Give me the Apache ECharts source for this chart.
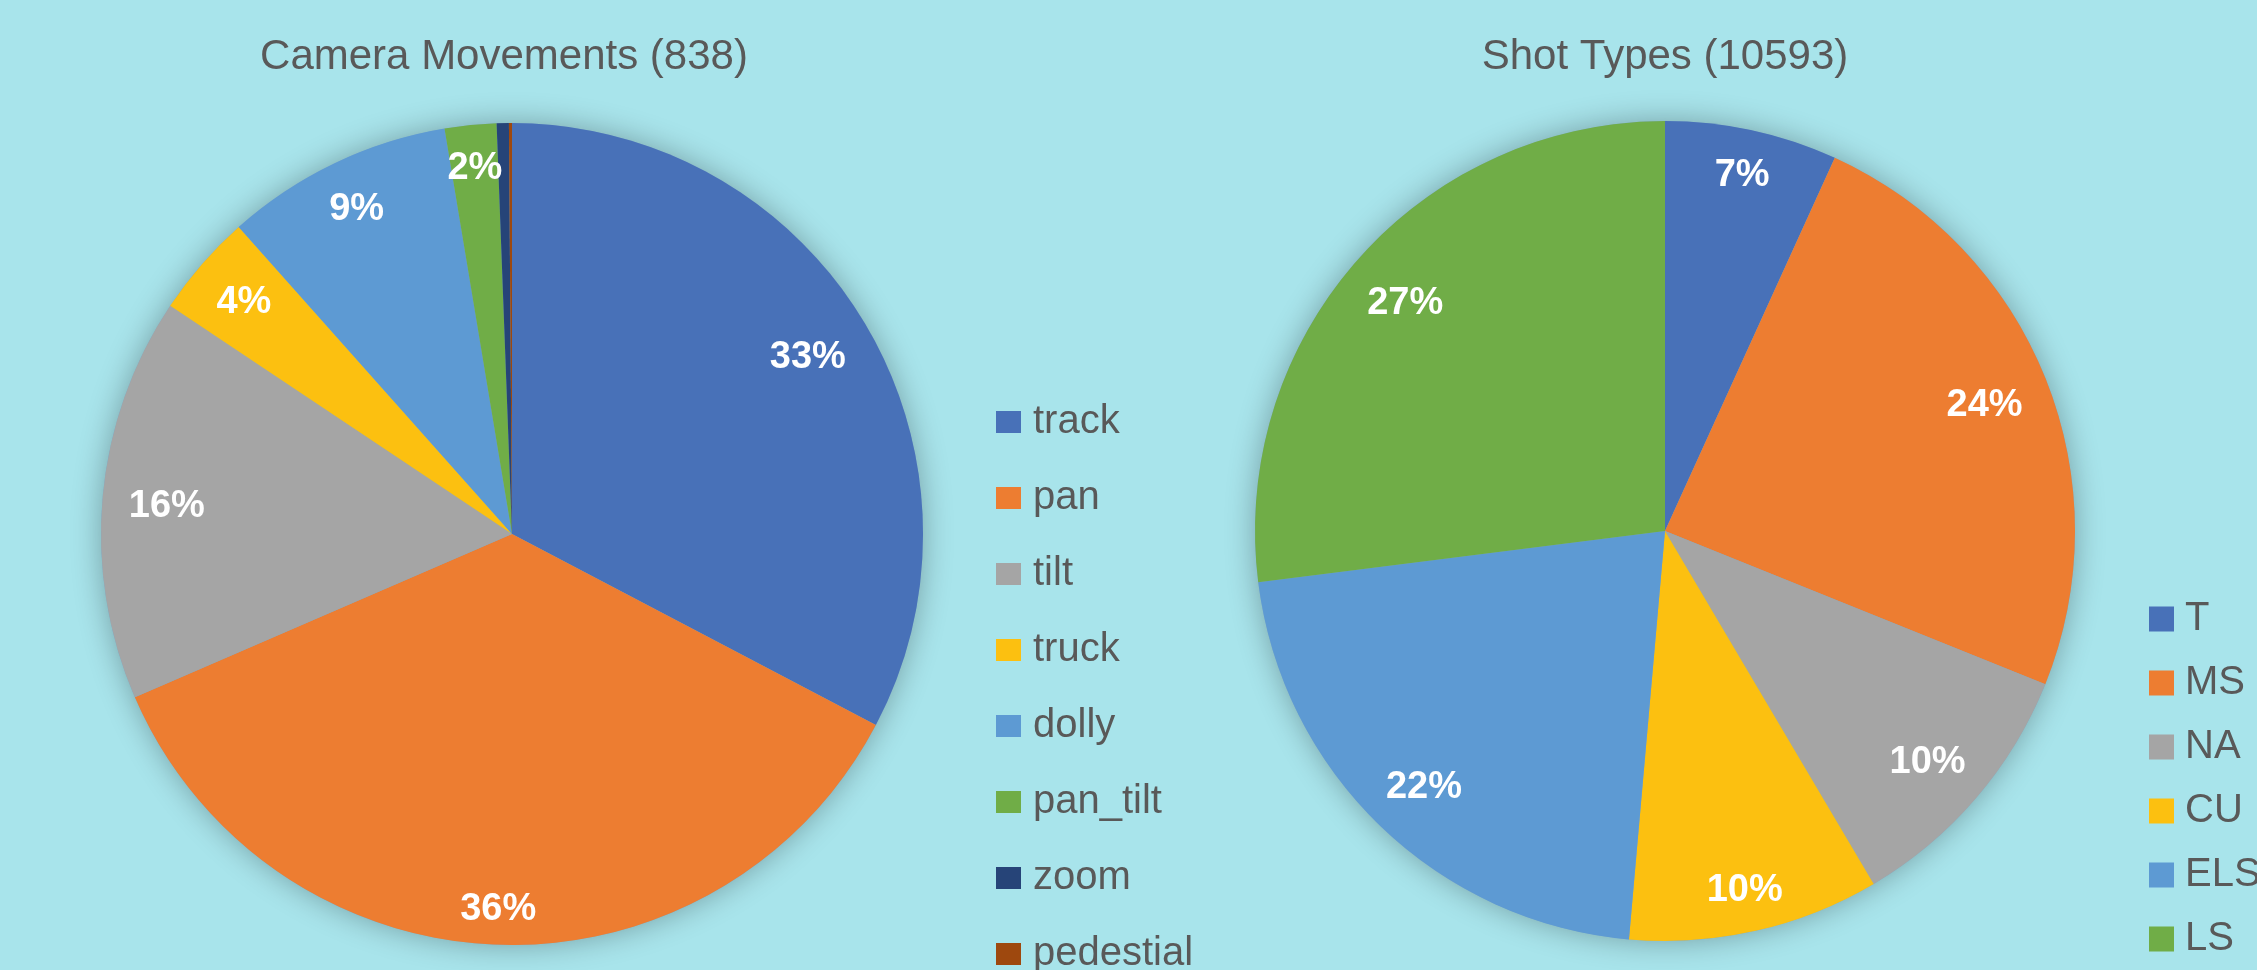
<!DOCTYPE html>
<html>
<head>
<meta charset="utf-8">
<script src="https://cdn.jsdelivr.net/npm/echarts@6/dist/echarts.min.js"></script>
<style>
  html, body { margin: 0; padding: 0; background: #a8e4eb; }
  #main { width: 2257px; height: 970px; }
</style>
</head>
<body>
<div id="main"></div>
<script>
// camera movements (838)
const moveNames = ['track', 'pan', 'tilt', 'truck', 'dolly', 'pan_tilt', 'zoom', 'pedestial'];
const moveCounts = [274, 300, 133, 34, 75, 17, 4, 1];
const moveColors = ['#4871b8', '#ed7d31', '#a5a5a5', '#fcc010', '#5d9ad3', '#70ad47', '#264478', '#9e480e'];

// shot types (10593)
const shotNames = ['T', 'MS', 'NA', 'CU', 'ELS', 'LS'];
const shotCounts = [720, 2574, 1102, 1049, 2288, 2860];
const shotColors = ['#4871b8', '#ed7d31', '#a5a5a5', '#fcc010', '#5d9ad3', '#70ad47'];

const bg = '#a8e4eb';
const textColor = '#595959';
const font = 'Liberation Sans';

const chart = echarts.init(document.getElementById('main'), null, { renderer: 'canvas' });

function total(arr) {
  return arr.reduce((a, b) => a + b, 0);
}

// excel "inside end" style: push label out along the mid angle until
// its outer corner sits a fixed gap inside the rim
function labelPlacer(counts, center, r) {
  const sum = total(counts);
  return function (p) {
    const i = p.dataIndex;
    let before = 0;
    for (let k = 0; k < i; k++) before += counts[k];
    const mid = (before + counts[i] / 2) / sum * Math.PI * 2;
    const ux = Math.sin(mid), uy = -Math.cos(mid);
    const hw = p.labelRect.width / 2, hh = 15;
    const dot = ux * Math.sign(ux) * hw + uy * Math.sign(uy) * hh;
    const R = r - 25;
    const d = -dot + Math.sqrt(dot * dot - (hw * hw + hh * hh) + R * R);
    return { x: center[0] + ux * d, y: center[1] + uy * d * 1.01 + 4 };
  };
}

function pieSeries(names, counts, colors, center, r) {
  const data = names.map((n, i) => ({ name: n, value: counts[i], itemStyle: { color: colors[i] } }));
  return [
    // backdrop just for the soft shadow round the pie
    {
      type: 'pie',
      center: center,
      radius: r,
      silent: true,
      z: 1,
      label: { show: false },
      labelLine: { show: false },
      itemStyle: { color: '#7fa9c9', shadowBlur: 30, shadowColor: 'rgba(0,0,0,0.3)' },
      data: [{ name: '', value: total(counts) }]
    },
    {
      type: 'pie',
      center: center,
      radius: r,
      startAngle: 90,
      clockwise: true,
      z: 2,
      itemStyle: { borderWidth: 0 },
      labelLine: { show: false },
      label: {
        show: true,
        position: 'inside',
        color: '#ffffff',
        fontFamily: font,
        fontWeight: 'bold',
        fontSize: 38,
        formatter: p => (p.percent < 1 ? '' : Math.round(p.percent) + '%')
      },
      labelLayout: labelPlacer(counts, center, r),
      data: data
    }
  ];
}

const option = {
  backgroundColor: bg,
  animation: false,
  title: [
    {
      text: 'Camera Movements (' + total(moveCounts) + ')',
      left: 504,
      top: 36,
      padding: 0,
      textAlign: 'center',
      textStyle: { color: textColor, fontFamily: font, fontWeight: 'normal', fontSize: 42 }
    },
    {
      text: 'Shot Types (' + total(shotCounts) + ')',
      left: 1665,
      top: 36,
      padding: 0,
      textAlign: 'center',
      textStyle: { color: textColor, fontFamily: font, fontWeight: 'normal', fontSize: 42 }
    }
  ],
  legend: [
    {
      data: moveNames,
      orient: 'vertical',
      left: 996,
      top: 402,
      height: 700,
      padding: 0,
      icon: 'rect',
      itemWidth: 25,
      itemHeight: 22,
      itemGap: 36,
      selectedMode: false,
      textStyle: { color: textColor, fontFamily: font, fontSize: 40, padding: [0, 0, 0, 7] }
    },
    {
      data: shotNames,
      orient: 'vertical',
      left: 2149,
      top: 599,
      height: 500,
      padding: 0,
      icon: 'rect',
      itemWidth: 25,
      itemHeight: 25,
      itemGap: 24,
      selectedMode: false,
      textStyle: { color: textColor, fontFamily: font, fontSize: 40, padding: [0, 0, 0, 6] }
    }
  ],
  series: [
    ...pieSeries(moveNames, moveCounts, moveColors, [512, 534], 411),
    ...pieSeries(shotNames, shotCounts, shotColors, [1665, 531], 410)
  ]
};

chart.setOption(option);
</script>
</body>
</html>
